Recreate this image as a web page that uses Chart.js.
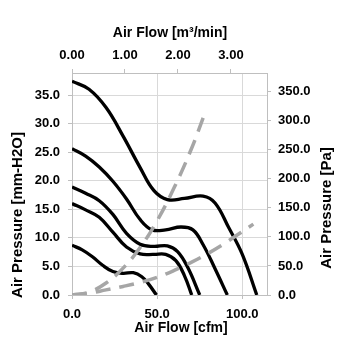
<!DOCTYPE html>
<html>
<head>
<meta charset="utf-8">
<script src="https://cdn.jsdelivr.net/npm/chart.js@4.4.1/dist/chart.umd.min.js"></script>
<style>
html,body{margin:0;padding:0;background:#fff;}
canvas{display:block;}
</style>
</head>
<body>
<canvas id="c" width="355" height="355"></canvas>
<script>
// ---- Data ----
// Fan curves: air flow [cfm] vs static pressure [mm-H2O]
const curveA_x = [0, 10, 20, 30, 40, 48, 56, 66, 77, 84, 92, 100, 108.5];
const curveA_y = [37.4, 36.0, 32.8, 27.8, 22.3, 18.3, 16.7, 16.9, 17.3, 16.1, 11.8, 7.1, 0];
const curveB_x = [0, 8, 16, 24, 32, 40, 47, 55, 64, 71, 77, 84, 91.2];
const curveB_y = [25.6, 24.3, 22.4, 19.9, 16.8, 13.2, 11.4, 11.4, 11.9, 11.4, 8.8, 4.6, 0];
const curveC_x = [0, 8, 16, 24, 32, 40, 48, 56, 62, 68, 75];
const curveC_y = [18.9, 17.8, 16.5, 14.1, 10.8, 8.9, 8.5, 8.6, 7.6, 4.8, 0];
const curveD_x = [0, 8, 16, 24, 32, 40, 48, 55, 61, 66, 70.3];
const curveD_y = [16.0, 14.9, 13.6, 11.0, 8.4, 7.2, 7.1, 7.1, 6.0, 3.4, 0];
const curveE_x = [0, 6, 12, 18, 24, 30, 36, 41, 45, 49.6];
const curveE_y = [8.7, 7.9, 6.7, 5.2, 4.1, 3.8, 3.9, 3.2, 1.9, 0];
// System impedance curves (dashed)
const sysHigh_x = [0, 10, 20, 30, 40, 50, 60, 70, 78];
const sysHigh_y = [0, 0.5, 2.1, 4.7, 8.3, 13.0, 18.8, 25.5, 31.8];
const sysLow_x = [0, 10, 20, 30, 40, 50, 60, 70, 80, 90, 100, 106.5];
const sysLow_y = [0, 0.3, 0.9, 1.5, 2.2, 3.1, 4.3, 5.7, 7.3, 9.1, 11.1, 12.4];

// Axis ticks
const cfmTicks = [0, 50, 100];
const m3Ticks = [0, 1, 2, 3];
const mmTicks = [0, 5, 10, 15, 20, 25, 30, 35];
const paTicks = [0, 50, 100, 150, 200, 250, 300, 350];

// Axis titles
const titleTop = 'Air Flow [m³/min]';
const titleBottom = 'Air Flow [cfm]';
const titleLeft = 'Air Pressure [mm-H2O]';
const titleRight = 'Air Pressure [Pa]';

// ---- Build ----
const pts = (xs, ys) => xs.map((x, i) => ({x: x, y: ys[i]}));
const fan = (xs, ys) => ({
  data: pts(xs, ys), borderColor: '#000000', borderWidth: 3.3,
  pointRadius: 0, tension: 0.4, fill: false
});
const sys = (xs, ys) => ({
  data: pts(xs, ys), borderColor: '#A6A6A6', borderWidth: 3.5,
  borderDash: [15, 9], pointRadius: 0, tension: 0.4, fill: false
});

const narrow = "'Liberation Sans Narrow', 'Arial Narrow', sans-serif";
const tickFont = {family: narrow, size: 13, weight: 'bold'};
const gridCol = '#D9D9D9';
const axisCol = '#BFBFBF';
const setTicks = vals => (s => { s.ticks = vals.map(v => ({value: v})); });

const titlePlugin = {
  id: 'titles',
  afterDraw(chart) {
    const ctx = chart.ctx;
    const rot = (txt, x, y) => {
      ctx.save();
      ctx.translate(x, y);
      ctx.rotate(-Math.PI / 2);
      ctx.fillText(txt, 0, 0);
      ctx.restore();
    };
    ctx.save();
    ctx.fillStyle = '#000';
    ctx.textAlign = 'center';
    ctx.textBaseline = 'middle';
    ctx.font = "bold 14px " + narrow;
    ctx.fillText(titleTop, 170, 33);
    ctx.fillText(titleBottom, 181, 328);
    ctx.font = "bold 15px 'Liberation Sans', Arial, sans-serif";
    rot(titleLeft, 18, 215);
    rot(titleRight, 327, 208);
    ctx.restore();
  }
};

new Chart(document.getElementById('c'), {
  type: 'line',
  data: {
    datasets: [
      sys(sysHigh_x, sysHigh_y),
      sys(sysLow_x, sysLow_y),
      fan(curveA_x, curveA_y),
      fan(curveB_x, curveB_y),
      fan(curveC_x, curveC_y),
      fan(curveD_x, curveD_y),
      fan(curveE_x, curveE_y)
    ]
  },
  options: {
    responsive: false,
    animation: false,
    devicePixelRatio: 1,
    layout: {padding: 0},
    plugins: {legend: {display: false}, tooltip: {enabled: false}},
    scales: {
      x: {
        type: 'linear', position: 'bottom', min: 0, max: 114.5,
        afterBuildTicks: setTicks(cfmTicks),
        afterFit: s => { s.height = 60; },
        ticks: {font: tickFont, color: '#000', padding: 8, maxRotation: 0, autoSkip: false,
                callback: v => v.toFixed(1)},
        grid: {color: gridCol, tickColor: axisCol, tickLength: 4},
        border: {color: axisCol}
      },
      x2: {
        type: 'linear', position: 'top', min: 0, max: 3.68,
        afterBuildTicks: setTicks(m3Ticks),
        afterFit: s => { s.height = 73; },
        ticks: {font: tickFont, color: '#000', padding: 6, maxRotation: 0, autoSkip: false,
                callback: v => v.toFixed(2)},
        grid: {drawOnChartArea: false, tickColor: axisCol, tickLength: 4},
        border: {color: axisCol}
      },
      y: {
        type: 'linear', position: 'left', min: 0, max: 38.85,
        afterBuildTicks: setTicks(mmTicks),
        afterFit: s => { s.width = 72; },
        ticks: {font: tickFont, color: '#000', padding: 8, autoSkip: false,
                callback: v => v.toFixed(1)},
        grid: {color: gridCol, tickColor: axisCol, tickLength: 4},
        border: {color: axisCol}
      },
      y2: {
        type: 'linear', position: 'right', min: 0, max: 382,
        afterBuildTicks: setTicks(paTicks),
        afterFit: s => { s.width = 88; },
        ticks: {font: tickFont, color: '#000', padding: 7, autoSkip: false,
                callback: v => v.toFixed(1)},
        grid: {drawOnChartArea: false, tickColor: axisCol, tickLength: 4},
        border: {color: axisCol}
      }
    }
  },
  plugins: [titlePlugin]
});
</script>
</body>
</html>
